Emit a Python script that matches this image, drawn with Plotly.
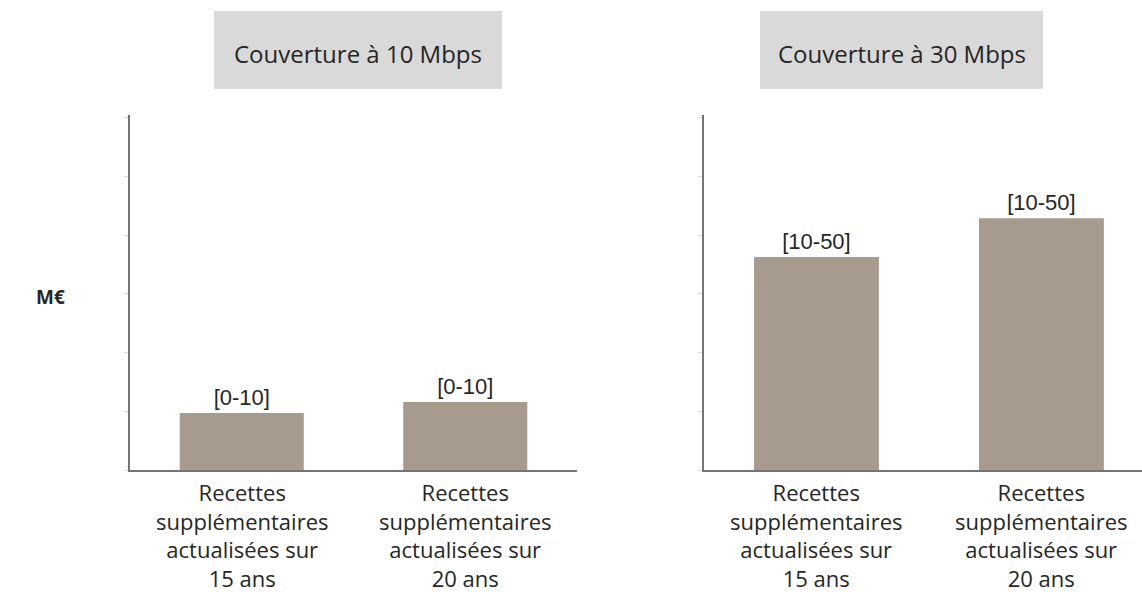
import plotly.graph_objects as go
from plotly.subplots import make_subplots

# Data
panel_titles = ["Couverture à 10 Mbps", "Couverture à 30 Mbps"]
categories = [
    "Recettes<br>supplémentaires<br>actualisées sur<br>15 ans",
    "Recettes<br>supplémentaires<br>actualisées sur<br>20 ans",
]
values_10mbps = [0.97, 1.16]
values_30mbps = [3.63, 4.29]
labels_10mbps = ["[0-10]", "[0-10]"]
labels_30mbps = ["[10-50]", "[10-50]"]
unit_label = "M€"

W, H = 1142, 596
BAR_COLOR = "#A79B8D"
AXIS_COLOR = "#747474"
TEXT_COLOR = "#262626"
LABEL_FONT = "Open Sans, sans-serif"

fig = make_subplots(rows=1, cols=2)

for col, (vals, labs) in enumerate([(values_10mbps, labels_10mbps),
                                    (values_30mbps, labels_30mbps)], start=1):
    fig.add_trace(
        go.Bar(
            x=[0, 1],
            y=vals,
            width=0.555,
            marker=dict(color=BAR_COLOR, line=dict(width=0)),
            text=labs,
            textposition="outside",
            cliponaxis=False,
            textfont=dict(family="Liberation Sans, Arial, sans-serif", size=22, color=TEXT_COLOR),
            hoverinfo="skip",
            showlegend=False,
        ),
        row=1, col=col,
    )

y_dom = [(H - 470) / H, (H - 115) / H]
x_doms = [[130 / W, 577 / W], [704 / W, 1.0]]
x_ranges = [[-0.5, 1.5], [-0.5, 1.447]]

for i in range(2):
    fig.update_xaxes(
        domain=x_doms[i], range=x_ranges[i],
        tickmode="array", tickvals=[0, 1], showticklabels=False,
        showline=True, linecolor=AXIS_COLOR, linewidth=1.5,
        showgrid=False, zeroline=False, ticks="",
        row=1, col=i + 1,
    )
    fig.update_yaxes(
        domain=y_dom, range=[0, 6.05], dtick=1,
        showline=True, linecolor=AXIS_COLOR, linewidth=1.5,
        showgrid=False, zeroline=False, showticklabels=False,
        ticks="outside", ticklen=4, tickcolor="#dcdcdc", tickwidth=1,
        row=1, col=i + 1,
    )

# Category labels centred under each bar
for xref in ["x", "x2"]:
    for pos, cat in enumerate(categories):
        fig.add_annotation(
            xref=xref, yref="paper",
            x=pos, y=(H - 535) / H,
            text=cat, showarrow=False,
            xanchor="center", yanchor="middle", align="center",
            font=dict(family=LABEL_FONT, size=22, color=TEXT_COLOR),
        )

# Panel header boxes
boxes = [(214, 502), (760, 1043)]
for (x0, x1), title in zip(boxes, panel_titles):
    fig.add_shape(
        type="rect", xref="paper", yref="paper",
        x0=x0 / W, x1=x1 / W, y0=(H - 89) / H, y1=(H - 11) / H,
        fillcolor="#D9D9D9", line=dict(width=0), layer="below",
    )
    fig.add_annotation(
        xref="paper", yref="paper",
        x=(x0 + x1) / 2 / W, y=(H - 53) / H,
        text=title, showarrow=False,
        xanchor="center", yanchor="middle",
        font=dict(family=LABEL_FONT, size=24, color=TEXT_COLOR),
    )

fig.add_annotation(
    xref="paper", yref="paper", x=50 / W, y=(H - 297) / H,
    text=f"<b>{unit_label}</b>", showarrow=False,
    xanchor="center", yanchor="middle",
    font=dict(family=LABEL_FONT, size=19, color=TEXT_COLOR),
)

fig.update_layout(
    width=W, height=H,
    margin=dict(l=0, r=0, t=0, b=0),
    paper_bgcolor="white", plot_bgcolor="white",
    bargap=0.4,
)

fig.write_html("out.html")
